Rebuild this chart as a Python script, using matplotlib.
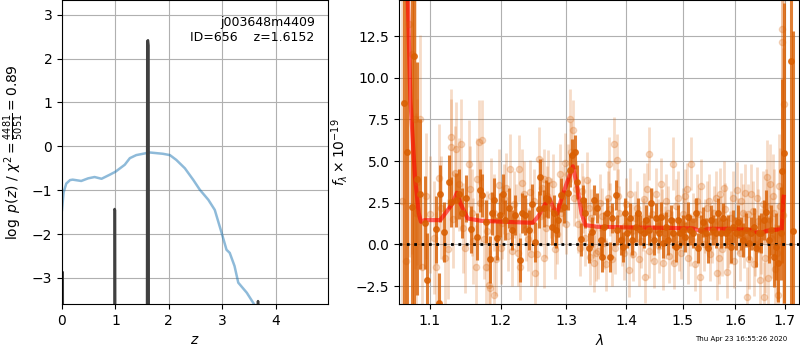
import matplotlib
matplotlib.use('Agg')
import matplotlib.pyplot as plt
from matplotlib.ticker import NullLocator

# ---- left panel: chi2 curve and log p(z)
chi2_z = [0.0, 0.03, 0.08, 0.15, 0.2, 0.36, 0.49, 0.61, 0.74, 0.89, 1.0, 1.175,
          1.27, 1.39, 1.64, 1.89, 2.02, 2.14, 2.3, 2.46, 2.58, 2.74, 2.86, 2.99,
          3.08, 3.14, 3.23, 3.3, 3.46, 3.58, 3.7]
chi2_logp = [-1.45, -1.05, -0.85, -0.77, -0.76, -0.79, -0.73, -0.70, -0.74, -0.65,
             -0.58, -0.42, -0.27, -0.20, -0.14, -0.17, -0.20, -0.31, -0.50, -0.77,
             -0.99, -1.22, -1.45, -1.98, -2.36, -2.43, -2.73, -3.11, -3.34, -3.57, -3.8]

pdf_z = [0.0, 0.006, 0.014, 0.02, 0.96, 0.978, 0.985, 0.993, 1.003, 1.588, 1.596,
         1.61, 1.62, 1.628, 3.655, 3.67, 3.685, 4.98]
pdf_logp = [-10, -2.87, -2.87, -10, -10, -10, -1.43, -1.46, -10, -10, 2.40,
            2.42, 2.30, -10, -10, -3.53, -10, -10]

obj_name = 'j003648m4409'
obj_id = 656
z_best = 1.6152
chi2_num, chi2_den = 4481, 5051

# ---- right panel: spectrum (wavelength um, flux, error)
binned = [
    (1.0655, 8.49, 25), (1.0690, 5.55, 25), (1.0756, 2.22, 20), (1.0790, 11.28, 20),
    (1.0829, 3.95, 7.0), (1.0866, 3.01, 4.5), (1.0932, 1.30, 2.8), (1.0956, -2.14, 2.8),
    (1.1085, 0.90, 2.0), (1.1118, -3.50, 1.8), (1.1142, 3.05, 1.7), (1.1189, 0.76, 1.8),
    (1.1259, 3.75, 1.6), (1.1292, 2.56, 1.5), (1.1354, 2.66, 1.6), (1.1401, 3.05, 1.5),
    (1.1448, 1.86, 1.5), (1.1495, 2.76, 1.4), (1.1566, 0.90, 1.4), (1.1660, 0.46, 1.4),
    (1.1698, 3.25, 1.3), (1.1731, 2.95, 1.3), (1.1778, 1.36, 1.3), (1.1840, -0.90, 1.4),
    (1.1873, 1.86, 1.3), (1.1906, 2.66, 1.3), (1.1943, 0.36, 1.3), (1.1991, 1.76, 1.3),
    (1.2030, 3.05, 1.2), (1.2066, 1.46, 1.2), (1.2116, 2.16, 1.2), (1.2167, 0.86, 1.2),
    (1.2217, 1.76, 1.2), (1.2283, -0.94, 1.3), (1.2318, 1.86, 1.2), (1.2369, 1.76, 1.2),
    (1.2419, 0.86, 1.2), (1.2470, 2.42, 1.2), (1.2520, 0.16, 1.2), (1.2571, 2.10, 1.1),
    (1.2596, 4.05, 1.1), (1.2646, 2.16, 1.1), (1.2687, 2.76, 1.1), (1.2722, 2.66, 1.1),
    (1.2773, 1.06, 1.1), (1.2808, 1.86, 1.1), (1.2838, 0.86, 1.1), (1.2874, 1.46, 1.0),
    (1.2924, 2.96, 1.0), (1.2975, 2.26, 1.0), (1.3028, 3.06, 1.0), (1.3056, 4.45, 1.0),
    (1.3101, 5.35, 1.0), (1.3140, 5.55, 1.0), (1.3180, 3.75, 1.0), (1.3236, 0.30, 1.0),
    (1.3270, 2.66, 0.9), (1.3309, 1.86, 0.9), (1.3365, -0.24, 0.9), (1.3421, 0.76, 0.9),
    (1.3461, 2.66, 0.9), (1.3506, 2.16, 0.9), (1.3562, 0.26, 0.9), (1.3590, -0.74, 0.9),
    (1.3618, 1.06, 0.9), (1.3674, 1.86, 0.9), (1.3719, -0.74, 0.9), (1.3758, 1.56, 0.9),
    (1.3815, 2.96, 0.9), (1.3843, 0.86, 0.9), (1.3899, 0.26, 0.9), (1.3944, -0.14, 0.9),
    (1.3983, 1.86, 0.9), (1.4012, 0.66, 0.9), (1.4070, 1.56, 0.9), (1.4099, 0.26, 0.9),
    (1.4157, 1.06, 0.9), (1.4198, 1.86, 0.9), (1.4244, 0.86, 0.9), (1.4302, 0.66, 0.9),
    (1.4349, 1.46, 0.9), (1.4390, 0.86, 0.9), (1.4430, 2.46, 0.9), (1.4477, 0.26, 0.9),
    (1.4523, 1.56, 0.9), (1.4564, 0.66, 0.9), (1.4605, 1.66, 0.9), (1.4651, 0.06, 0.9),
    (1.4698, 1.06, 0.9), (1.4738, 0.26, 0.9), (1.4779, 1.46, 0.9), (1.4826, 0.66, 0.9),
    (1.4872, -0.14, 0.9), (1.4913, 1.46, 0.9), (1.4953, 0.66, 0.9), (1.5000, 0.86, 0.9),
    (1.5051, 0.46, 0.9), (1.5096, 1.66, 0.9), (1.5141, 0.86, 0.9), (1.5192, 0.66, 0.9),
    (1.5244, 1.86, 0.9), (1.5288, -0.24, 0.9), (1.5333, 0.86, 0.9), (1.5385, 1.36, 0.9),
    (1.5436, 0.66, 0.9), (1.5481, -0.24, 0.9), (1.5526, 1.46, 0.9), (1.5577, 0.86, 0.9),
    (1.5628, 0.66, 0.9), (1.5673, 1.86, 0.9), (1.5718, 0.66, 0.9), (1.5769, 1.56, 0.9),
    (1.5821, 0.66, 0.9), (1.5865, 0.86, 0.9), (1.5910, -0.14, 1.0), (1.5962, 1.06, 1.0),
    (1.6014, 0.66, 1.0), (1.6061, 1.36, 1.0), (1.6108, 0.66, 1.0), (1.6162, 0.26, 1.0),
    (1.6216, 0.86, 1.0), (1.6264, 0.06, 1.0), (1.6311, 0.66, 1.0), (1.6365, 1.06, 1.1),
    (1.6419, -0.24, 1.1), (1.6466, 0.66, 1.1), (1.6514, 0.66, 1.2), (1.6568, 1.46, 1.2),
    (1.6622, 1.96, 1.3), (1.6669, 0.26, 1.4), (1.6716, 0.86, 1.5), (1.6770, -0.74, 1.8),
    (1.6824, -0.14, 2.0), (1.6872, -1.14, 2.3), (1.6919, 0.66, 2.8), (1.6946, 4.41, 5.5),
    (1.6986, 5.50, 9.0), (1.7125, 11.00, 20), (1.7167, 0.82, 12),
]

unbinned = [
    (1.0630, 2.60, 30), (1.0680, -1.00, 30), (1.0724, 13.24, 14), (1.0756, 11.44, 12),
    (1.0799, 7.55, 9), (1.0814, 1.86, 6), (1.0830, 3.75, 5), (1.0866, 7.55, 5),
    (1.0888, -1.34, 4.2), (1.0950, 2.90, 3.8), (1.1000, 1.80, 3.5), (1.1050, 0.40, 3.4),
    (1.1085, -1.34, 3.3), (1.1120, 4.00, 3.2), (1.1150, 2.20, 3.1), (1.1200, -0.80, 3.0),
    (1.1250, -0.30, 3.0), (1.1283, 6.45, 2.9), (1.1292, 5.85, 2.9), (1.1320, 1.50, 2.9),
    (1.1350, 4.30, 2.8), (1.1354, 5.75, 2.8), (1.1400, 3.60, 2.8), (1.1425, 6.01, 2.7),
    (1.1450, 1.00, 2.7), (1.1480, -0.20, 2.7), (1.1542, 4.85, 2.6), (1.1550, 3.30, 2.6),
    (1.1580, 1.90, 2.6), (1.1600, 0.20, 2.6), (1.1637, -1.34, 2.5), (1.1650, 3.90, 2.5),
    (1.1684, 6.15, 2.5), (1.1700, 2.50, 2.5), (1.1731, 6.25, 2.4), (1.1750, 0.30, 2.4),
    (1.1778, -1.34, 2.4), (1.1800, 0.80, 2.4), (1.1825, -2.44, 2.3), (1.1849, -2.64, 2.3),
    (1.1860, 2.90, 2.3), (1.1896, -3.04, 2.3), (1.1900, 1.90, 2.3), (1.1930, -0.90, 2.2),
    (1.1967, 3.55, 2.2), (1.2000, -0.20, 2.2), (1.2020, 1.30, 2.2), (1.2050, 2.70, 2.1),
    (1.2080, 3.40, 2.1), (1.2100, 0.50, 2.1), (1.2141, 4.55, 2.1), (1.2170, -0.40, 2.1),
    (1.2200, 2.40, 2.0), (1.2230, 1.60, 2.0), (1.2250, -0.50, 2.0), (1.2268, 4.55, 2.0),
    (1.2293, -1.34, 2.0), (1.2320, 3.70, 2.0), (1.2350, 3.00, 2.0), (1.2380, 0.90, 1.9),
    (1.2400, 0.30, 1.9), (1.2434, 3.15, 1.9), (1.2460, -0.60, 1.9), (1.2500, 2.60, 1.9),
    (1.2520, -1.74, 1.9), (1.2550, -0.60, 1.9), (1.2571, 5.15, 1.9), (1.2600, 1.70, 1.8),
    (1.2620, 3.40, 1.8), (1.2646, 3.95, 1.8), (1.2650, -0.80, 1.8), (1.2680, 1.00, 1.8),
    (1.2700, 2.90, 1.8), (1.2722, 3.85, 1.8), (1.2760, 2.20, 1.8), (1.2790, 3.60, 1.8),
    (1.2820, -0.30, 1.8), (1.2860, 0.60, 1.8), (1.2899, 4.25, 1.8), (1.2920, 1.90, 1.8),
    (1.2950, 2.90, 1.8), (1.2980, 4.90, 1.8), (1.3000, 1.20, 1.8), (1.3028, 4.25, 1.8),
    (1.3056, 7.51, 1.8), (1.3084, 5.55, 1.8), (1.3112, 6.85, 1.8), (1.3130, 2.80, 1.7),
    (1.3160, 3.30, 1.7), (1.3200, 1.20, 1.7), (1.3220, -0.20, 1.7), (1.3250, 3.20, 1.7),
    (1.3280, 2.40, 1.7), (1.3310, 0.40, 1.7), (1.3337, 3.85, 1.7), (1.3370, 2.20, 1.7),
    (1.3393, -0.74, 1.7), (1.3400, 1.60, 1.7), (1.3430, 0.90, 1.7), (1.3449, -1.14, 1.7),
    (1.3480, -0.50, 1.7), (1.3520, -0.40, 1.7), (1.3550, 2.50, 1.7), (1.3580, 1.70, 1.7),
    (1.3620, 0.10, 1.6), (1.3650, -1.20, 1.6), (1.3680, 2.80, 1.6), (1.3702, 4.85, 1.6),
    (1.3720, 2.10, 1.6), (1.3750, -0.90, 1.6), (1.3787, 6.05, 1.6), (1.3810, -0.20, 1.6),
    (1.3843, 5.05, 1.6), (1.3860, 2.90, 1.6), (1.3880, 1.90, 1.6), (1.3920, 0.30, 1.6),
    (1.3955, -0.54, 1.6), (1.3980, 1.10, 1.6), (1.4000, 2.40, 1.6), (1.4041, -1.54, 1.6),
    (1.4060, 3.00, 1.6), (1.4090, 0.80, 1.6), (1.4120, -0.60, 1.6), (1.4150, 1.60, 1.6),
    (1.4180, 2.20, 1.6), (1.4220, -0.90, 1.6), (1.4250, 0.20, 1.6), (1.4280, 1.20, 1.6),
    (1.4300, 2.70, 1.6), (1.4331, -1.94, 1.6), (1.4360, 3.30, 1.6), (1.4390, 5.45, 1.6),
    (1.4400, -0.40, 1.6), (1.4420, 0.60, 1.6), (1.4450, 1.80, 1.6), (1.4490, -1.00, 1.6),
    (1.4520, 3.00, 1.6), (1.4550, 1.10, 1.6), (1.4580, -0.10, 1.6), (1.4610, 3.60, 1.6),
    (1.4630, 1.70, 1.6), (1.4651, -1.14, 1.6), (1.4680, 0.70, 1.6), (1.4700, 2.60, 1.6),
    (1.4730, 1.90, 1.6), (1.4760, -0.70, 1.6), (1.4800, 0.40, 1.6), (1.4826, 4.85, 1.6),
    (1.4850, -1.10, 1.6), (1.4880, 2.30, 1.6), (1.4910, 2.80, 1.6), (1.4930, 0.00, 1.6),
    (1.4970, -0.50, 1.6), (1.5000, 1.80, 1.6), (1.5020, 1.20, 1.6), (1.5050, 2.90, 1.6),
    (1.5080, 3.30, 1.6), (1.5100, -0.80, 1.6), (1.5130, 0.30, 1.6), (1.5160, 4.85, 1.6),
    (1.5200, 1.50, 1.6), (1.5230, -1.20, 1.6), (1.5260, 2.60, 1.6), (1.5300, 1.80, 1.6),
    (1.5321, -1.94, 1.6), (1.5350, 3.50, 1.6), (1.5400, 0.00, 1.6), (1.5420, 1.10, 1.6),
    (1.5450, 2.20, 1.6), (1.5490, 2.60, 1.6), (1.5520, -0.60, 1.6), (1.5550, 0.50, 1.6),
    (1.5580, 1.90, 1.6), (1.5620, 2.80, 1.6), (1.5641, -1.74, 1.6), (1.5680, -0.80, 1.6),
    (1.5700, 3.00, 1.6), (1.5730, 1.30, 1.6), (1.5750, -0.30, 1.6), (1.5780, 3.40, 1.6),
    (1.5800, 2.10, 1.6), (1.5833, -1.64, 1.6), (1.5850, 0.20, 1.6), (1.5900, 0.40, 1.6),
    (1.5920, 1.60, 1.6), (1.5950, 2.80, 1.6), (1.5980, -1.00, 1.6), (1.6027, 3.25, 1.7),
    (1.6050, 1.10, 1.7), (1.6100, -0.50, 1.7), (1.6120, 2.60, 1.7), (1.6150, 1.90, 1.7),
    (1.6180, 0.30, 1.7), (1.6200, 3.10, 1.7), (1.6230, -3.14, 1.8), (1.6250, 1.80, 1.8),
    (1.6280, -0.90, 1.8), (1.6320, 3.00, 1.8), (1.6350, 2.00, 1.8), (1.6380, -1.20, 1.9),
    (1.6400, 0.00, 1.9), (1.6432, 2.76, 1.9), (1.6460, 1.40, 1.9), (1.6500, -2.14, 2.0),
    (1.6520, 0.20, 2.0), (1.6550, 2.40, 2.0), (1.6568, -3.14, 2.1), (1.6600, -0.80, 2.1),
    (1.6620, 2.30, 2.2), (1.6635, 4.05, 2.2), (1.6660, -2.00, 2.3), (1.6680, 1.50, 2.3),
    (1.6703, 3.65, 2.4), (1.6720, 0.40, 2.4), (1.6750, 2.90, 2.5), (1.6780, 1.90, 2.6),
    (1.6800, -1.50, 2.7), (1.6840, -0.50, 2.9), (1.6872, -3.04, 3.0), (1.6880, 3.50, 3.1),
    (1.6900, 2.30, 3.5), (1.6939, 12.94, 6), (1.6945, 12.14, 8), (1.6973, 1.76, 10),
    (1.6993, 8.45, 12),
]

model_wave = [1.0705, 1.074, 1.080, 1.085, 1.088, 1.093, 1.114, 1.121, 1.131, 1.137,
              1.142, 1.152, 1.171, 1.204, 1.248, 1.256, 1.266, 1.274, 1.279, 1.286,
              1.292, 1.300, 1.311, 1.318, 1.325, 1.331, 1.351, 1.407, 1.465, 1.519,
              1.528, 1.535, 1.548, 1.589, 1.633, 1.650, 1.663, 1.687, 1.694, 1.697, 1.698]
model_flux = [14.8, 8.65, 4.05, 1.86, 1.36, 1.46, 1.46, 1.86, 2.46, 3.10,
              2.46, 1.56, 1.42, 1.36, 1.30, 1.66, 2.36, 2.76, 2.26, 1.86,
              2.66, 3.55, 4.69, 3.45, 1.86, 1.16, 1.06, 1.02, 1.00, 0.96,
              0.86, 0.80, 0.94, 0.94, 0.86, 0.66, 0.82, 0.90, 0.90, 2.66, 2.86]

orange = '#d95f02'

fig = plt.figure(figsize=(8, 3.5), dpi=100)
ax1 = fig.add_axes([0.0775, 0.131, 0.3325, 0.868])
ax2 = fig.add_axes([0.499, 0.131, 0.5, 0.868])

# left
ax1.plot(chi2_z, chi2_logp, color='tab:blue', alpha=0.5, lw=1.8)
ax1.plot(pdf_z, pdf_logp, color='0.25', lw=1.8)
ax1.set_xlim(0, 4.98)
ax1.set_ylim(-3.6, 3.33)
ax1.set_yticks([-3, -2, -1, 0, 1, 2, 3])
ax1.grid(True)
ax1.set_xlabel('$z$')
ax1.set_ylabel(r'$\log\ p(z)$ / $\chi^2=\frac{%d}{%d}=%.2f$'
               % (chi2_num, chi2_den, chi2_num / chi2_den))
ax1.text(0.95, 0.95, '%s\nID=%d    z=%.4f' % (obj_name, obj_id, z_best),
         ha='right', va='top', transform=ax1.transAxes, fontsize=9)

# right
wu, fu, eu = zip(*unbinned)
wb, fb, eb = zip(*binned)
ax2.errorbar(wu, fu, eu, color=orange, marker='o', ms=4.5, lw=2,
             linestyle='none', alpha=0.22)
ax2.errorbar(wb, fb, eb, color=orange, marker='o', ms=4, lw=2.2,
             linestyle='none', alpha=0.8)
ax2.plot(model_wave, model_flux, color='r', alpha=0.6, lw=3)
ax2.axhline(0, color='k', linestyle=':', lw=2)

ax2.set_xscale('log')
ax2.set_xlim(1.0593, 1.7307)
ax2.set_ylim(-3.58, 14.64)
ax2.set_xticks([1.1, 1.2, 1.3, 1.4, 1.5, 1.6, 1.7])
ax2.set_xticklabels(['1.1', '1.2', '1.3', '1.4', '1.5', '1.6', '1.7'])
ax2.xaxis.set_minor_locator(NullLocator())
ax2.set_yticks([-2.5, 0, 2.5, 5, 7.5, 10, 12.5])
ax2.grid(True)
ax2.set_xlabel(r'$\lambda$')
ax2.set_ylabel(r'$f_\lambda \times 10^{-19}$')

fig.text(0.984, 0.031, 'Thu Apr 23 16:55:26 2020', ha='right', va='center', fontsize=5)

fig.savefig('out.png', dpi=100)
